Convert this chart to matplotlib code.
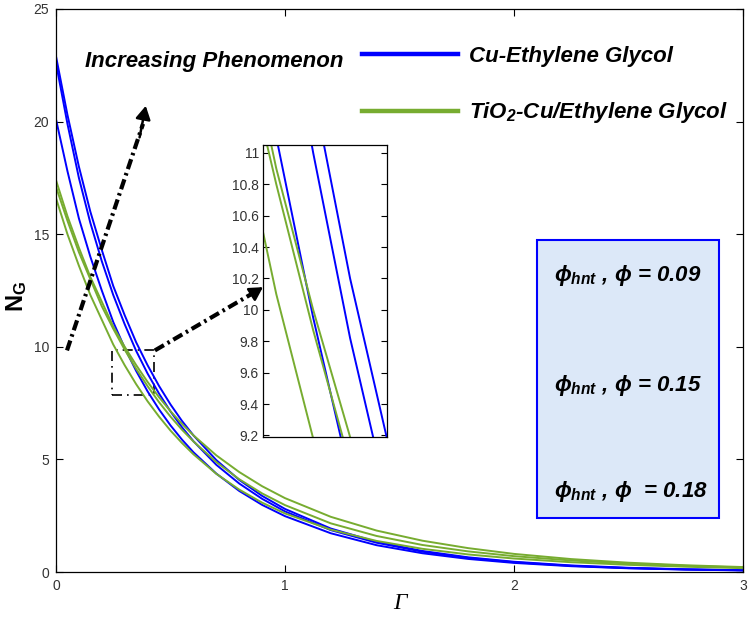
import matplotlib
matplotlib.use("Agg")
import matplotlib.pyplot as plt
from matplotlib.patches import Rectangle
from matplotlib.ticker import FormatStrFormatter
import numpy as np

# values (Gamma vs N_G)
gamma = [0, 0.05, 0.1, 0.15, 0.2, 0.25, 0.3, 0.35, 0.4, 0.45, 0.5, 0.55, 0.6,
         0.7, 0.8, 0.9, 1.0, 1.2, 1.4, 1.6, 1.8, 2.0, 2.25, 2.5, 2.75, 3.0]

# Cu-Ethylene Glycol, phi = 0.09 / 0.15 / 0.18
cu_eg_1 = [22.9, 20.3, 18.0, 16.0, 14.3, 12.7, 11.4, 10.2, 9.18, 8.26, 7.44, 6.71, 6.07,
           4.97, 4.09, 3.38, 2.80, 1.93, 1.34, 0.934, 0.652, 0.456, 0.291, 0.187, 0.121, 0.080]
cu_eg_2 = [22.6, 19.9, 17.5, 15.5, 13.8, 12.3, 11.0, 9.82, 8.81, 7.92, 7.13, 6.43, 5.81,
           4.76, 3.93, 3.25, 2.69, 1.86, 1.30, 0.901, 0.625, 0.434, 0.274, 0.174, 0.113, 0.075]
cu_eg_3 = [20.1, 17.8, 15.7, 14.0, 12.5, 11.1, 9.95, 8.93, 8.02, 7.22, 6.51, 5.88, 5.32,
           4.37, 3.60, 2.98, 2.48, 1.72, 1.19, 0.833, 0.580, 0.404, 0.257, 0.164, 0.106, 0.070]

# TiO2-Cu/Ethylene Glycol
tio2_1 = [17.4, 15.8, 14.4, 13.1, 12.0, 10.9, 10.0, 9.19, 8.44, 7.76, 7.14, 6.58, 6.07,
          5.18, 4.44, 3.81, 3.28, 2.45, 1.84, 1.39, 1.06, 0.804, 0.574, 0.413, 0.299, 0.220]
tio2_2 = [17.1, 15.6, 14.2, 13.0, 11.8, 10.8, 9.87, 9.02, 8.25, 7.54, 6.90, 6.32, 5.80,
          4.88, 4.12, 3.49, 2.97, 2.16, 1.60, 1.20, 0.915, 0.703, 0.512, 0.376, 0.275, 0.200]
tio2_3 = [16.6, 15.0, 13.6, 12.3, 11.2, 10.1, 9.18, 8.34, 7.58, 6.90, 6.28, 5.73, 5.23,
          4.36, 3.66, 3.08, 2.60, 1.88, 1.38, 1.03, 0.780, 0.598, 0.434, 0.318, 0.234, 0.170]

phi_labels = ["= 0.09", "= 0.15", " = 0.18"]

blue = "#0000ff"
green = "#77ac30"

plt.rcParams["font.family"] = "Liberation Sans"
plt.rcParams["mathtext.fontset"] = "custom"
plt.rcParams["mathtext.it"] = "Liberation Sans:bold:italic"
plt.rcParams["mathtext.rm"] = "Liberation Sans:bold:italic"
plt.rcParams["mathtext.bf"] = "Liberation Sans:bold"

W, H = 749, 618
fig = plt.figure(figsize=(W / 100, H / 100), dpi=100)
ax = fig.add_axes([56 / W, (H - 572) / H, (743 - 56) / W, (572 - 9) / H])

def draw_curves(a, lw):
    for ys in [cu_eg_1, cu_eg_2, cu_eg_3]:
        a.plot(gamma, ys, color=blue, lw=lw)
    for ys in [tio2_1, tio2_2, tio2_3]:
        a.plot(gamma, ys, color=green, lw=lw)

draw_curves(ax, 1.4)
ax.set_xlim(0, 3)
ax.set_ylim(0, 25)
ax.set_xticks([0, 1, 2, 3])
ax.set_yticks([0, 5, 10, 15, 20, 25])
ax.tick_params(direction="in", length=5, width=0.8, top=True, right=True,
               labelsize=10, labelcolor="#333333", pad=5)
for s in ax.spines.values():
    s.set_linewidth(0.9)

ax.set_xlabel("Γ", family="Liberation Serif", style="italic", fontsize=17, labelpad=0)
ax.set_ylabel(r"$\mathbf{N_G}$", fontsize=17)
ax.yaxis.set_label_coords(-0.04, 0.49)

# legend (lines + labels)
handles = [plt.Line2D([], [], color=blue, lw=3.2), plt.Line2D([], [], color=green, lw=3.2)]
fig.legend(handles, ["Cu-Ethylene Glycol", r"TiO$_2$-Cu/Ethylene Glycol"],
           loc="upper left", bbox_to_anchor=(362 / W, 1 - 46 / H), frameon=False,
           borderpad=0, borderaxespad=0, handlelength=4.3, handletextpad=0.5,
           labelspacing=1.5, prop=dict(family="Liberation Sans", weight="bold",
                                      style="italic", size=16))
fig.text(85 / W, 1 - 62 / H, "Increasing Phenomenon", fontsize=16, weight="bold",
         style="italic", va="center", ha="left")

# phi box
fig.patches.append(Rectangle((537 / W, 1 - 518 / H), (719 - 537) / W, (518 - 240) / H,
                             transform=fig.transFigure, facecolor="#dce8f8",
                             edgecolor=blue, lw=1.5))
for lab, yp in zip(phi_labels, [276, 385, 492]):
    fig.text(554 / W, 1 - yp / H, r"$\phi_{hnt}$ , $\phi$ " + lab, fontsize=16,
             weight="bold", style="italic", va="center", ha="left")

# arrows and zoom box
dash = (0, (2.5, 1.0, 0.6, 1.0))
ax.plot([0.048, 0.38], [9.84, 19.9], color="k", lw=3, ls=dash, solid_capstyle="butt")
ax.annotate("", xy=(0.392, 20.7), xytext=(0.365, 19.3),
            arrowprops=dict(arrowstyle="-|>,head_length=0.8,head_width=0.45",
                            color="k", lw=1.8, shrinkA=0, shrinkB=0))
ax.plot([0.432, 0.88], [9.84, 12.5], color="k", lw=3, ls=dash, solid_capstyle="butt")
ax.annotate("", xy=(0.904, 12.65), xytext=(0.85, 12.3),
            arrowprops=dict(arrowstyle="-|>,head_length=0.8,head_width=0.45",
                            color="k", lw=1.8, shrinkA=0, shrinkB=0))
ax.add_patch(Rectangle((0.245, 7.84), 0.428 - 0.245, 2.0, fill=False, edgecolor="k",
                       lw=1.2, ls=(0, (6, 3, 1, 3))))

# inset zoom
ins = fig.add_axes([263 / W, (H - 437) / H, 124 / W, 292 / H])
draw_curves(ins, 1.4)
ins.set_xlim(0.232, 0.40)
ins.set_ylim(9.19, 11.05)
ins.set_xticks([])
ins.set_yticks(np.arange(9.2, 11.01, 0.2))
ins.yaxis.set_major_formatter(FormatStrFormatter("%g"))
ins.tick_params(direction="in", length=4, width=0.8, right=True,
                labelsize=10, labelcolor="#333333", pad=3)
for s in ins.spines.values():
    s.set_linewidth(0.9)

fig.savefig("out.png", dpi=100)
